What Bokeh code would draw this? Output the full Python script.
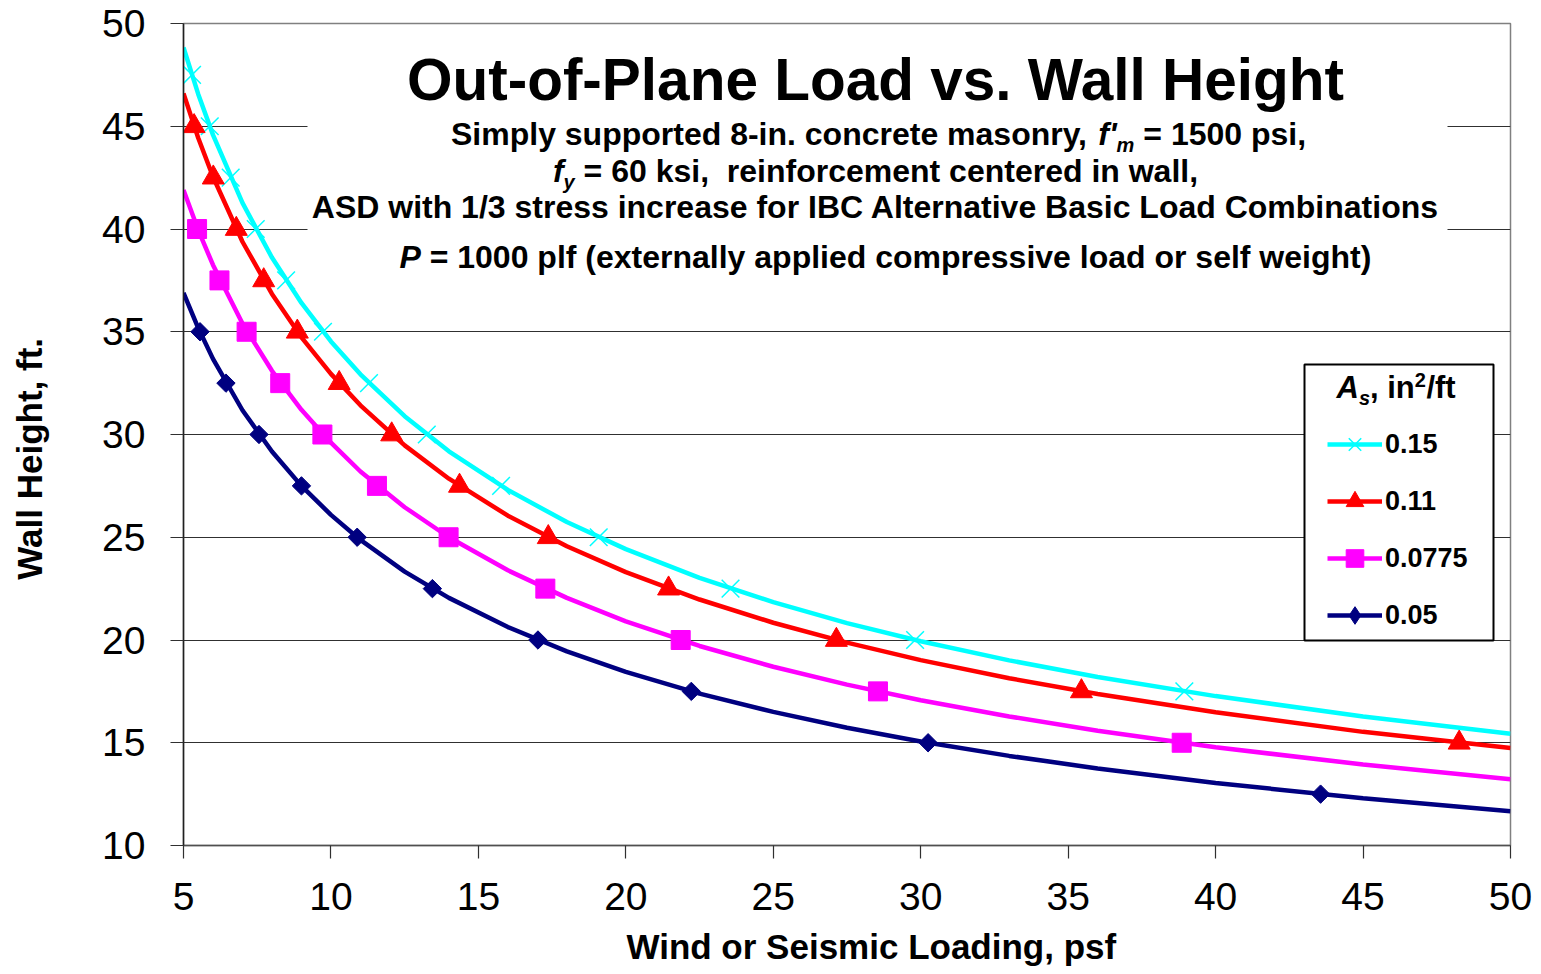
import math
from bokeh.plotting import figure
from bokeh.models import Label, Legend, LegendItem, FixedTicker, BoxAnnotation
from bokeh.embed import file_html
from bokeh.resources import INLINE

# ---------------- data ----------------
as_labels = ["0.15", "0.11", "0.0775", "0.05"]
colors = ["#00FFFF", "#FF0000", "#FF00FF", "#000080"]

# smooth curves: wall height (ft) at given loading (psf)
load_line = [5, 5.5, 6, 7, 8, 9, 10, 11, 12.5, 14, 16, 18, 20, 22.5, 25, 27.5, 30, 33, 36, 40, 45, 50]
h_015 = [48.83, 46.56, 44.58, 41.27, 38.61, 36.40, 34.53, 32.93, 30.89, 29.18, 27.30, 25.74, 24.42, 23.02,
         21.84, 20.82, 19.94, 19.01, 18.20, 17.27, 16.28, 15.44]
h_011 = [46.60, 44.43, 42.54, 39.38, 36.84, 34.73, 32.95, 31.42, 29.47, 27.85, 26.05, 24.56, 23.30, 21.97,
         20.84, 19.87, 19.02, 18.14, 17.37, 16.48, 15.53, 14.74]
h_00775 = [41.90, 39.95, 38.25, 35.40, 33.10, 31.20, 29.60, 28.20, 26.46, 25.00, 23.39, 22.05, 20.91, 19.71,
           18.70, 17.83, 17.07, 16.28, 15.58, 14.78, 13.94, 13.22]
h_005 = [36.89, 35.18, 33.68, 31.18, 29.17, 27.50, 26.09, 24.87, 23.33, 22.05, 20.63, 19.45, 18.45, 17.39,
         16.50, 15.73, 15.06, 14.36, 13.75, 13.04, 12.30, 11.67]

# marker points
mk_h_015 = [47.5, 45, 42.5, 40, 37.5, 35, 32.5, 30, 27.5, 25, 22.5, 20, 17.5]
mk_w_015 = [5.29, 5.89, 6.60, 7.45, 8.48, 9.73, 11.29, 13.25, 15.77, 19.08, 23.55, 29.81, 38.94]
mk_h_011 = [45, 42.5, 40, 37.5, 35, 32.5, 30, 27.5, 25, 22.5, 20, 17.5, 15]
mk_w_011 = [5.36, 6.01, 6.79, 7.72, 8.86, 10.28, 12.06, 14.36, 17.37, 21.45, 27.14, 35.45, 48.26]
mk_h_00775 = [40, 37.5, 35, 32.5, 30, 27.5, 25, 22.5, 20, 17.5, 15]
mk_w_00775 = [5.46, 6.22, 7.14, 8.28, 9.71, 11.56, 13.99, 17.27, 21.86, 28.55, 38.85]
mk_h_005 = [35, 32.5, 30, 27.5, 25, 22.5, 20, 17.5, 15, 12.5]
mk_w_005 = [5.56, 6.44, 7.56, 9.00, 10.89, 13.44, 17.02, 22.22, 30.25, 43.56]

x_ticks = [5, 10, 15, 20, 25, 30, 35, 40, 45, 50]
y_ticks = [10, 15, 20, 25, 30, 35, 40, 45, 50]

# ---------------- geometry ----------------
FONT = "Liberation Sans"
W, H = 1535, 970
FL, FT, FW, FH = 183, 23, 1327, 822   # frame in canvas px
NB = "\u00a0"

def px2x(px):
    return 5 + (px - FL) * 45.0 / FW

def py2y(py):
    return 50 - (py - FT) * 40.0 / FH

p = figure(width=W, height=H, x_range=(5, 50), y_range=(10, 50),
           output_backend="svg", toolbar_location=None,
           min_border_left=FL, min_border_top=FT,
           min_border_right=W - FL - FW, min_border_bottom=H - FT - FH)
p.background_fill_color = "white"
p.border_fill_color = "white"
p.outline_line_color = "#808080"
p.outline_line_width = 1.5

# axes
p.xaxis.ticker = FixedTicker(ticks=x_ticks)
p.yaxis.ticker = FixedTicker(ticks=y_ticks)
for ax in (p.xaxis[0], p.yaxis[0]):
    ax.minor_tick_line_color = None
    ax.major_tick_in = 0
    ax.major_tick_out = 13
    ax.major_label_text_font = FONT
    ax.major_label_text_font_size = "39px"
    ax.major_label_text_color = "black"
    ax.major_tick_line_color = "#303030"
    ax.major_tick_line_width = 1.2
    ax.axis_label_text_font = FONT
    ax.axis_label_text_font_style = "bold"
    ax.axis_label_text_font_size = "35px"
    ax.axis_label_text_color = "black"
p.xaxis.axis_line_color = "#505050"
p.xaxis.axis_line_width = 1.5
p.yaxis.axis_line_color = "#202020"
p.yaxis.axis_line_width = 1.5
p.xaxis.major_label_standoff = 24
p.yaxis.major_label_standoff = 25
p.xaxis.axis_label = NB * 5 + "Wind or Seismic Loading, psf"
p.yaxis.axis_label = "Wall Height, ft." + NB * 5
p.xaxis.axis_label_standoff = 14
p.yaxis.axis_label_standoff = 50

p.xgrid.visible = False
p.ygrid.ticker = FixedTicker(ticks=y_ticks)
p.ygrid.grid_line_color = "#303030"
p.ygrid.grid_line_width = 1.2

# curves
lines = [h_015, h_011, h_00775, h_005]
mks = [(mk_w_015, mk_h_015), (mk_w_011, mk_h_011), (mk_w_00775, mk_h_00775), (mk_w_005, mk_h_005)]
items = []
for i, lab_txt in enumerate(as_labels):
    lr = p.line(load_line, lines[i], line_color=colors[i], line_width=4.5)
    wx, hy = mks[i]
    if i == 0:
        sr = p.scatter(wx, hy, marker="x", size=25, line_color=colors[i], line_width=1.5)
        leg_r = [lr, sr]
    elif i == 1:
        sr = p.scatter(wx, hy, marker="triangle", size=22, fill_color=colors[i], line_color=colors[i])
        leg_r = [lr, sr]
    elif i == 2:
        sr = p.scatter(wx, hy, marker="square", size=19, fill_color=colors[i], line_color=colors[i])
        leg_r = [lr, sr]
    else:
        # diamond marker (drawn first, fully covered by the rotated square; used for the legend swatch)
        dm = p.scatter(wx, hy, marker="diamond", size=16, fill_color=colors[i], line_color=colors[i])
        sr = p.scatter(wx, hy, marker="square", size=13, angle=math.pi / 4,
                       fill_color=colors[i], line_color=colors[i])
        leg_r = [lr, dm]
    items.append(LegendItem(label=lab_txt, renderers=leg_r))

# white box behind title block
p.add_layout(BoxAnnotation(left=px2x(307), right=px2x(1447), top=py2y(30), bottom=py2y(287),
                           fill_color="white", fill_alpha=1.0, line_alpha=0.0))
# legend frame
p.add_layout(BoxAnnotation(left=px2x(1304), right=px2x(1493), top=py2y(364), bottom=py2y(640),
                           fill_color="white", fill_alpha=1.0, line_color="black", line_width=2,
                           line_alpha=1.0))

# legend entries (box drawn above)
GH, SP = 44, 13
leg_top = 444 - GH / 2
leg_bottom = leg_top + 4 * GH + 3 * SP
legend = Legend(items=items, location=(1327 - FL, (FT + FH) - leg_bottom),
                border_line_alpha=0.0, background_fill_alpha=0.0,
                padding=0, spacing=SP, glyph_width=55, glyph_height=GH, label_height=GH,
                label_standoff=3, label_text_font=FONT, label_text_font_style="bold",
                label_text_font_size="27px", label_text_color="black", margin=0)
p.add_layout(legend)


def lab(text, px, py, size, style="bold", align="left"):
    # py = desired baseline (px); renderer places alphabetic text ~0.4em lower
    p.add_layout(Label(x=px2x(px), y=py2y(py - 0.4 * size), text=text, text_font=FONT,
                       text_font_size=f"{size}px", text_font_style=style, text_color="black",
                       text_align=align, text_baseline="alphabetic"))

# title block
lab("Out-of-Plane Load vs. Wall Height", 875, 102.5, 58.5, align="center")
b1 = 146.5
lab("Simply supported 8-in. concrete masonry,", 450.5, b1, 32)
lab("f'", 1097.8, b1, 32, style="bold italic")
lab("m", 1116.1, b1 + 6, 20, style="bold italic")
lab("= 1500 psi,", 1142.8, b1, 32)
b2 = 183.5
lab("f", 552.4, b2, 32, style="bold italic")
lab("y", 563.1, b2 + 6, 20, style="bold italic")
lab("= 60 ksi," + NB + " reinforcement centered in wall,", 583.1, b2, 32)
lab("ASD with 1/3 stress increase for IBC Alternative Basic Load Combinations", 875, 219.5, 32, align="center")
b4 = 269.5
lab("P", 399, b4, 32, style="bold italic")
lab("= 1000 plf (externally applied compressive load or self weight)", 429.2, b4, 32)

# legend title
bt = 399
lab("A", 1336, bt, 31, style="bold italic")
lab("s", 1358.4, bt + 6, 20, style="bold italic")
lab(", in", 1369.5, bt, 31)
lab("2", 1414.3, bt - 12, 20)
lab("/ft", 1425.9, bt, 31)

open("out.html", "w").write(file_html(p, INLINE))
